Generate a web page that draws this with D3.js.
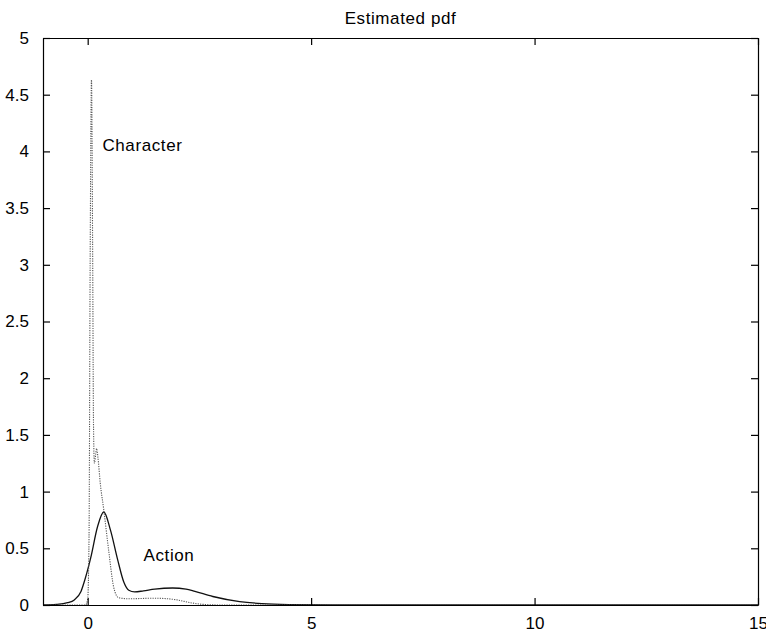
<!DOCTYPE html>
<html>
<head>
<meta charset="utf-8">
<script src="https://cdn.jsdelivr.net/npm/d3@7"></script>
<style>
  html, body { margin: 0; padding: 0; background: #fff; }
  svg { display: block; }
  text { font-family: "Liberation Sans", Arial, Helvetica, sans-serif; fill: #000; }
</style>
</head>
<body>
<svg id="chart" width="766" height="633"></svg>
<script>
// Estimated densities for the two genres
const actionX = [-1, -0.7, -0.45, -0.3, -0.15, -0.05, 0.07, 0.22, 0.36, 0.51, 0.67, 0.81, 0.92, 1.05, 1.25, 1.5, 1.9, 2.2, 2.4, 2.8, 3.4, 3.9, 4.5, 5.5, 15];
const actionY = [0, 0.005, 0.02, 0.045, 0.12, 0.24, 0.42, 0.69, 0.82, 0.66, 0.4, 0.2, 0.13, 0.115, 0.125, 0.14, 0.15, 0.14, 0.12, 0.075, 0.03, 0.012, 0.004, 0.001, 0];

const charX = [-1, -0.05, 0.0, 0.03, 0.055, 0.085, 0.11, 0.13, 0.15, 0.18, 0.2, 0.23, 0.28, 0.36, 0.47, 0.58, 0.69, 0.9, 1.5, 2.0, 2.3, 2.6, 3, 15];
const charY = [0, 0, 0.05, 0.6, 3.0, 4.63, 3.2, 1.6, 1.25, 1.33, 1.38, 1.3, 1.08, 0.84, 0.48, 0.16, 0.065, 0.055, 0.06, 0.045, 0.02, 0.005, 0, 0];

const xDomain = [-1, 15];
const yDomain = [0, 5];
const xTicks = [0, 5, 10, 15];
const yTicks = [0, 0.5, 1, 1.5, 2, 2.5, 3, 3.5, 4, 4.5, 5];

const titleText = "Estimated pdf";
const labels = [
  { text: "Character", x: 0.33, y: 4.0 },
  { text: "Action", x: 1.25, y: 0.39 }
];

const svg = d3.select("#chart");
const m = { left: 43, right: 8, top: 38, bottom: 28 };
const W = 766, H = 633;

const x = d3.scaleLinear().domain(xDomain).range([m.left, W - m.right]);
const y = d3.scaleLinear().domain(yDomain).range([H - m.bottom, m.top]);

const tickLen = 7;
const fmt = d3.format("~g");

// Curves
const line = d3.line()
  .x(d => x(d[0]))
  .y(d => y(d[1]))
  .curve(d3.curveMonotoneX);

svg.append("path")
  .datum(actionX.map((v, i) => [v, actionY[i]]))
  .attr("d", line)
  .attr("fill", "none")
  .attr("stroke", "#111")
  .attr("stroke-width", 1.3);

svg.append("path")
  .datum(charX.map((v, i) => [v, charY[i]]))
  .attr("d", line)
  .attr("fill", "none")
  .attr("stroke", "#555")
  .attr("stroke-width", 1.1)
  .attr("stroke-dasharray", "1.2,1.2");

// Axes box with inward ticks on all four sides
const axisBottom = d3.axisBottom(x).tickValues(xTicks).tickSizeInner(-tickLen).tickSizeOuter(0).tickPadding(12).tickFormat(fmt);
const axisTop = d3.axisTop(x).tickValues(xTicks).tickSizeInner(-tickLen).tickSizeOuter(0).tickFormat("");
const axisLeft = d3.axisLeft(y).tickValues(yTicks).tickSizeInner(-tickLen).tickSizeOuter(0).tickPadding(14).tickFormat(fmt);
const axisRight = d3.axisRight(y).tickValues(yTicks).tickSizeInner(-tickLen).tickSizeOuter(0).tickFormat("");

function styleAxis(g) {
  g.select(".domain").attr("stroke", "#000").attr("stroke-width", 1.2);
  g.selectAll(".tick line").attr("stroke", "#000").attr("stroke-width", 1.2);
  g.selectAll(".tick text")
    .attr("font-size", 17)
    .attr("font-family", "'Liberation Sans', Arial, Helvetica, sans-serif")
    .attr("fill", "#000");
}

svg.append("g").attr("transform", `translate(0,${y(0)})`).call(axisBottom).call(styleAxis);
svg.append("g").attr("transform", `translate(0,${y(5)})`).call(axisTop).call(styleAxis);
svg.append("g").attr("transform", `translate(${x(-1)},0)`).call(axisLeft).call(styleAxis);
svg.append("g").attr("transform", `translate(${x(15)},0)`).call(axisRight).call(styleAxis);

// Title
svg.append("text")
  .attr("x", (x(-1) + x(15)) / 2)
  .attr("y", 24)
  .attr("text-anchor", "middle")
  .attr("font-size", 17)
  .attr("letter-spacing", 0.6)
  .text(titleText);

// Curve labels
svg.selectAll(".lbl")
  .data(labels)
  .enter().append("text")
  .attr("class", "lbl")
  .attr("x", d => x(d.x))
  .attr("y", d => y(d.y))
  .attr("font-size", 17)
  .attr("letter-spacing", 0.6)
  .text(d => d.text);
</script>
</body>
</html>
